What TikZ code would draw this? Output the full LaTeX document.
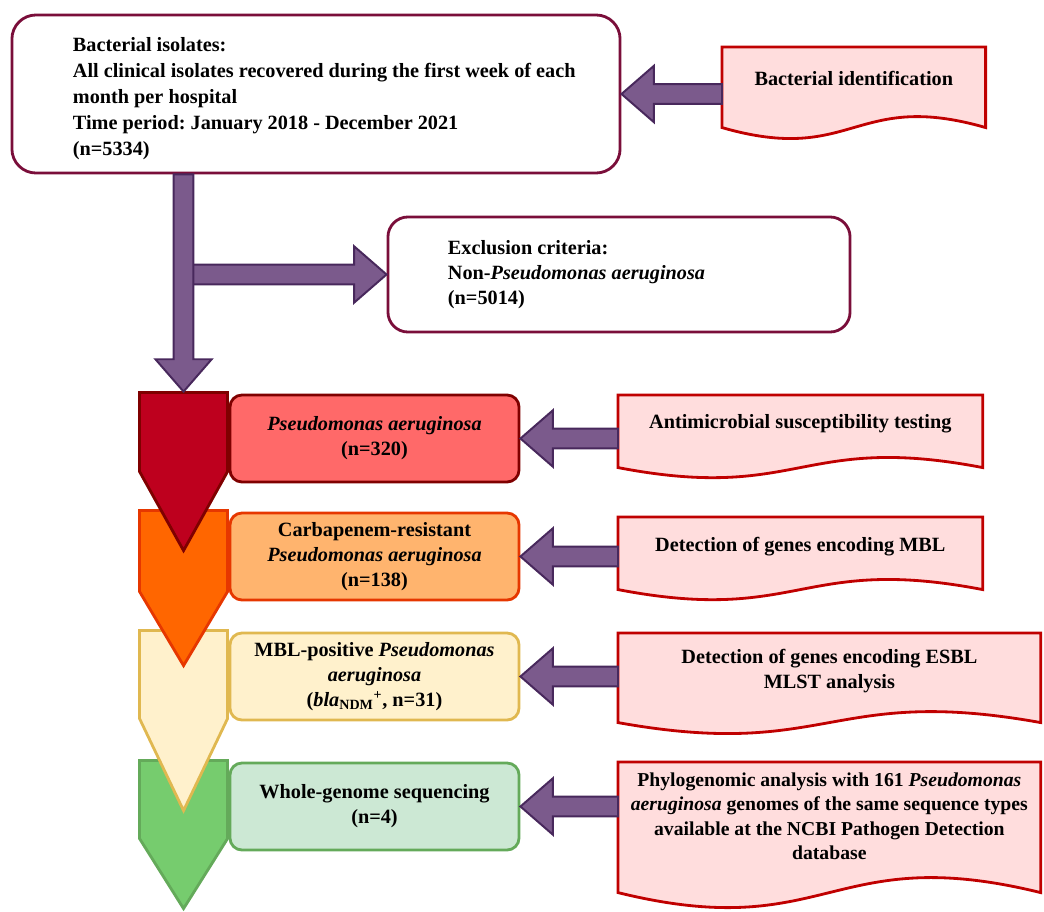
\documentclass[tikz,border=0pt]{standalone}
\usepackage{fontspec}
\setmainfont{Liberation Serif}
\usetikzlibrary{calc,positioning,backgrounds}
\frenchspacing

\definecolor{maroon}{RGB}{122,14,58}
\definecolor{arrowpurple}{RGB}{123,90,140}
\definecolor{arrowdark}{RGB}{72,40,92}
\definecolor{docpink}{RGB}{255,221,221}
\definecolor{docred}{RGB}{192,0,0}
\definecolor{chevred}{RGB}{190,0,30}
\definecolor{redline}{RGB}{127,0,0}
\definecolor{boxred}{RGB}{255,105,105}
\definecolor{chevorange}{RGB}{255,102,0}
\definecolor{orangeline}{RGB}{230,55,0}
\definecolor{boxorange}{RGB}{255,180,110}
\definecolor{paleyellow}{RGB}{255,241,204}
\definecolor{yellowline}{RGB}{224,184,80}
\definecolor{chevgreen}{RGB}{118,204,110}
\definecolor{greenline}{RGB}{100,170,90}
\definecolor{boxgreen}{RGB}{204,232,212}

\newcommand{\fatarrow}[2]{%
  \coordinate (fa-base) at ($(#2)!23pt!(#1)$);
  \filldraw[fat] ($(#1)!7pt!90:(#2)$) -- ($(fa-base)!7pt!90:(#2)$) -- ($(fa-base)!20pt!90:(#2)$) -- (#2)
    -- ($(fa-base)!20pt!-90:(#2)$) -- ($(fa-base)!7pt!-90:(#2)$) -- ($(#1)!7pt!-90:(#2)$) -- cycle;}
\newcommand{\docoutline}[3]{%
  \begin{scope}[on background layer]
  \filldraw[docline] (#1.north west) -- (#1.north east) -- ($(#1.south east)+(0,#2)$)
    .. controls ($(#1.south)+(0,#2-#3)$) and ($(#1.south)+(0,#2+#3)$) .. ($(#1.south west)+(0,#2)$) -- cycle;
  \end{scope}}
\newcommand{\chevron}[5]{%
  \begin{scope}[on background layer]
  \filldraw[fill=#2, draw=#3, line width=2pt, line join=miter] ($(#1.north west)+(-89,-1)$) -- ($(#1.north west)+(-1,-1)$)
    -- ($(#1.north west)+(-1,#4)$) -- ($(#1.north west)+(-45,#5)$) -- ($(#1.north west)+(-89,#4)$) -- cycle;
  \end{scope}}

\begin{document}
\begin{tikzpicture}[x=0.025cm,y=-0.025cm,every node/.style={font=\fontsize{14.4}{17.8}\selectfont\bfseries}]
	\tikzstyle{roundbox} = [draw=maroon, line width=2pt, fill=white]
	\tikzstyle{stage} = [rectangle, line width=2pt, rounded corners=0.3cm, minimum width=7.225cm, minimum height=2.175cm, align=center]
	\tikzstyle{doc} = [rectangle, anchor=north west, align=center, inner sep=1pt]
	\tikzstyle{docline} = [draw=docred, fill=docpink, line width=2pt, line join=miter]
	\tikzstyle{fat} = [draw=arrowdark, fill=arrowpurple, line width=1.4pt, line join=miter]
	
	\useasboundingbox (0,0) rectangle (1044,912);
	
	\node [roundbox, rounded corners=0.6cm, minimum width=15.2cm, minimum height=3.95cm, font=\fontsize{14.4}{18.6}\selectfont\bfseries] (iso) at (316,94)
	{\makebox[14cm][l]{\hspace*{0.925cm}\raisebox{-3pt}[\height][\depth]{\begin{tabular}{@{}l@{}}Bacterial isolates:\\ All clinical isolates recovered during the first week of each\\ month per hospital\\ Time period: January 2018 - December 2021\\ (n=5334)\end{tabular}}}};
	\node [roundbox, rounded corners=0.5cm, minimum width=11.55cm, minimum height=2.875cm] (excl) at (619,274.5)
	{\makebox[10.5cm][l]{\hspace*{0.975cm}\begin{tabular}{@{}l@{}}Exclusion criteria:\\ Non-\textit{Pseudomonas aeruginosa}\\ (n=5014)\end{tabular}}};
	
	\node [stage, draw=redline, fill=boxred] (pa) at (374.5,438.5) {\textit{Pseudomonas aeruginosa}\\ (n=320)};
	\node [stage, draw=orangeline, fill=boxorange] (crpa) at (374.5,556.5) {Carbapenem-resistant\\ \textit{Pseudomonas aeruginosa}\\ (n=138)};
	\node [stage, draw=yellowline, fill=paleyellow] (mbl) at (374.5,676.5) {MBL-positive \textit{Pseudomonas}\\ \textit{aeruginosa}\\ (\textit{bla}\textsubscript{NDM}\textsuperscript{+}, n=31)};
	\node [stage, draw=greenline, fill=boxgreen] (wgs) at (374.5,806.5) {Whole-genome sequencing\\ (n=4)};
	
	\node [doc, minimum width=6.575cm, minimum height=1.55cm] (ident) at (722,47) {Bacterial identification};
	\node [doc, minimum width=9.1cm, minimum height=1.4cm] (ast) at (618,395) {Antimicrobial susceptibility testing};
	\node [doc, minimum width=9.1cm, minimum height=1.45cm] (detmbl) at (618,517) {Detection of genes encoding MBL};
	\node [doc, minimum width=10.55cm, minimum height=1.875cm] (esbl) at (618,633) {Detection of genes encoding ESBL\\ MLST analysis};
	\node [doc, minimum width=10.55cm, minimum height=2.7cm, font=\fontsize{14}{17.2}\selectfont\bfseries] (phylo) at (618,762) {Phylogenomic analysis with 161 \textit{Pseudomonas}\\ \textit{aeruginosa} genomes of the same sequence types\\ available at the NCBI Pathogen Detection\\ database};
	
	\docoutline{ident}{18}{38}
	\docoutline{ast}{16}{35}
	\docoutline{detmbl}{14}{35}
	\docoutline{esbl}{14}{38}
	\docoutline{phylo}{22}{52}
	
	\chevron{wgs}{chevgreen}{greenline}{77}{147}
	\chevron{mbl}{paleyellow}{yellowline}{87}{179}
	\chevron{crpa}{chevorange}{orangeline}{80}{154}
	\chevron{pa}{chevred}{redline}{78}{157}
	
	\coordinate (patop) at ($(pa.north west)+(-45,-2)$);
	\coordinate (isofoot) at (iso.south -| patop);
	\coordinate (branch) at (patop |- excl.west);
	
	\fatarrow{branch}{excl.west}
	\fatarrow{isofoot}{patop}
	\fatarrow{ident.west |- iso.east}{iso.east}
	\fatarrow{ast.west |- pa.east}{pa.east}
	\fatarrow{detmbl.west |- crpa.east}{crpa.east}
	\fatarrow{esbl.west |- mbl.east}{mbl.east}
	\fatarrow{phylo.west |- wgs.east}{wgs.east}
\end{tikzpicture}
\end{document}
